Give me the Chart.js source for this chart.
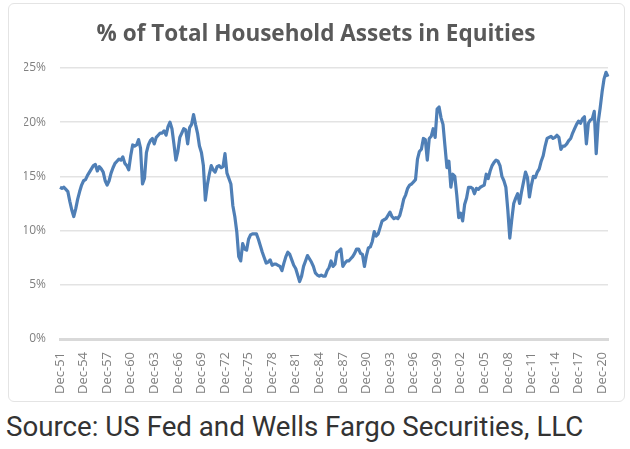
<!DOCTYPE html>
<html>
<head>
<meta charset="utf-8">
<script src="https://cdn.jsdelivr.net/npm/chart.js@4.4.1/dist/chart.umd.min.js"></script>
<style>
  html, body { margin: 0; padding: 0; background: #fff; }
  body { width: 630px; height: 449px; position: relative; overflow: hidden; }
  .card {
    position: absolute; left: 8px; top: 3px; width: 617px; height: 399px;
    border: 1px solid #e4e4e4; border-radius: 6px; box-sizing: border-box;
  }
  .chart-box { position: absolute; left: 0; top: 0; width: 630px; height: 402px; }
  .source {
    position: absolute; left: 6px; top: 410px;
    font-family: Roboto, "Open Sans", sans-serif; font-size: 27.7px; color: #333;
    white-space: nowrap;
  }
</style>
</head>
<body>
<div class="card"></div>
<div class="chart-box"><canvas id="equityChart" width="630" height="402"></canvas></div>
<div class="source">Source: US Fed and Wells Fargo Securities, LLC</div>

<script>
// --- Data: % of total household assets held in equities, quarterly from Dec-51 ---
const firstYear = 1951;
const quarterNames = ['Mar', 'Jun', 'Sep', 'Dec'];

const share1950s = [
  14.0,                    // Dec-51
  13.9, 14.0, 13.8, 13.6,  // 1952
  12.7, 11.9, 11.3, 12.0,  // 1953
  12.9, 13.6, 14.2, 14.6,  // 1954
  14.7, 15.1, 15.4, 15.7,  // 1955
  16.0, 16.1, 15.5, 15.9,  // 1956
  15.7, 15.4, 14.6, 14.2,  // 1957
  14.6, 15.3, 15.8, 16.2,  // 1958
  16.4, 16.6, 16.5, 16.8   // 1959
];
const share1960s = [
  16.2, 16.0, 15.6, 16.9,
  17.9, 17.8, 17.9, 18.4,
  17.6, 14.3, 14.8, 17.2,
  17.9, 18.3, 18.5, 18.0,
  18.6, 18.8, 19.0, 19.0,
  19.2, 18.8, 19.6, 20.0,
  19.4, 18.0, 16.5, 17.3,
  18.6, 19.0, 19.4, 19.3,
  18.0, 19.5, 19.8, 20.7,
  19.8, 19.0, 17.8, 17.2
];
const share1970s = [
  16.0, 12.8, 14.2, 15.2,
  16.0, 15.6, 15.4, 15.9,
  16.0, 15.8, 15.9, 17.1,
  15.3, 14.8, 14.3, 12.3,
  11.3, 9.9, 7.6, 7.2,
  8.8, 8.3, 8.2, 9.2,
  9.6, 9.7, 9.7, 9.7,
  9.2, 8.6, 8.0, 7.5,
  7.0, 7.1, 7.3, 6.8,
  6.9, 6.9, 6.8, 6.7
];
const share1980s = [
  6.3, 7.0, 7.6, 8.0,
  7.8, 7.3, 6.8, 6.5,
  5.9, 5.3, 5.8, 6.7,
  7.2, 7.7, 7.4, 7.1,
  6.7, 6.1, 5.9, 5.8,
  5.9, 5.8, 5.8, 6.3,
  6.6, 7.2, 6.7, 6.9,
  8.0, 8.1, 8.3, 6.7,
  7.0, 7.2, 7.2, 7.4,
  7.6, 7.9, 8.3, 8.3
];
const share1990s = [
  7.9, 7.8, 6.7, 7.7,
  8.4, 8.5, 9.0, 9.9,
  9.5, 9.7, 10.3, 10.9,
  11.0, 11.1, 11.4, 11.7,
  11.3, 11.1, 11.2, 11.1,
  11.4, 12.1, 12.9, 13.3,
  13.9, 14.2, 14.3, 14.5,
  14.7, 16.6, 17.3, 17.5,
  18.5, 18.4, 16.5, 18.5,
  18.7, 19.4, 18.6, 21.2
];
const share2000s = [
  21.4, 20.4, 19.8, 17.8,
  15.8, 16.4, 14.0, 15.2,
  15.0, 13.3, 11.2, 11.6,
  10.9, 12.4, 13.0, 14.0,
  14.0, 13.9, 13.4, 13.9,
  13.8, 14.0, 14.1, 14.2,
  15.2, 14.8, 15.5, 16.0,
  16.3, 16.5, 16.4, 16.0,
  15.0, 14.6, 14.0, 11.9,
  9.3, 11.0, 12.5, 13.0
];
const share2010s = [
  13.4, 12.5, 13.6, 14.5,
  15.4, 14.9, 13.1, 14.2,
  15.0, 14.9, 15.4, 15.7,
  16.4, 16.9, 17.8, 18.5,
  18.6, 18.7, 18.5, 18.6,
  18.8, 18.6, 17.5, 17.8,
  17.8, 18.0, 18.3, 18.5,
  19.0, 19.4, 19.8, 20.1,
  19.9, 20.3, 20.5, 18.0,
  19.9, 20.2, 20.3, 21.0
];
const share2020s = [
  17.1, 20.0, 21.3, 22.8,
  24.0, 24.6, 24.2
];

const equityShare = [].concat(share1950s, share1960s, share1970s, share1980s,
  share1990s, share2000s, share2010s, share2020s);

// quarter labels, first one is Dec-51
const quarterLabels = equityShare.map((v, i) => {
  const q = i + 3;
  const yr = firstYear + Math.floor(q / 4);
  return quarterNames[q % 4] + '-' + String(yr % 100).padStart(2, '0');
});

// one tick every 3 years (Dec-51, Dec-54, ... Dec-20)
const tickEvery = 12;
const yTicks = [0, 5, 10, 15, 20, 25];

Chart.defaults.font.family = '"Open Sans", "Noto Sans", sans-serif';

const ctx = document.getElementById('equityChart').getContext('2d');
new Chart(ctx, {
  type: 'line',
  data: {
    labels: quarterLabels,
    datasets: [{
      data: equityShare,
      borderColor: '#4f7fb6',
      borderWidth: 3.2,
      pointRadius: 0,
      tension: 0,
      borderJoinStyle: 'round',
      fill: false
    }]
  },
  options: {
    responsive: false,
    animation: false,
    // left/right padding balanced so the title centres on the card
    layout: { padding: { left: 24, right: 22, top: 0, bottom: 0 } },
    plugins: {
      legend: { display: false },
      tooltip: { enabled: false },
      title: {
        display: true,
        text: '% of Total Household Assets in Equities',
        color: '#595959',
        font: { size: 22.5, weight: 'bold' },
        padding: { top: 21, bottom: 20 }
      }
    },
    scales: {
      x: {
        offset: false,
        grid: { display: false },
        border: { display: true, color: '#d9d9d9', width: 3 },
        ticks: {
          autoSkip: false,
          minRotation: 90,
          maxRotation: 90,
          padding: 5,
          color: '#808080',
          font: { size: 13 },
          callback: function (value, index) {
            return index % tickEvery === 0 ? quarterLabels[index] : null;
          }
        },
        afterFit: function (scale) { scale.height = 63; }
      },
      y: {
        min: 0,
        max: 25,
        afterBuildTicks: function (scale) {
          scale.ticks = yTicks.map(v => ({ value: v }));
        },
        grid: {
          color: function (c) { return c.tick.value === 0 ? 'rgba(0,0,0,0)' : '#e3e3e3'; },
          lineWidth: 1.5,
          drawTicks: false
        },
        border: { display: false },
        ticks: {
          padding: 14,
          color: '#808080',
          font: { size: 12 },
          callback: function (value) { return value + '%'; }
        },
        afterFit: function (scale) { scale.width = 36; }
      }
    }
  }
});
</script>
</body>
</html>
